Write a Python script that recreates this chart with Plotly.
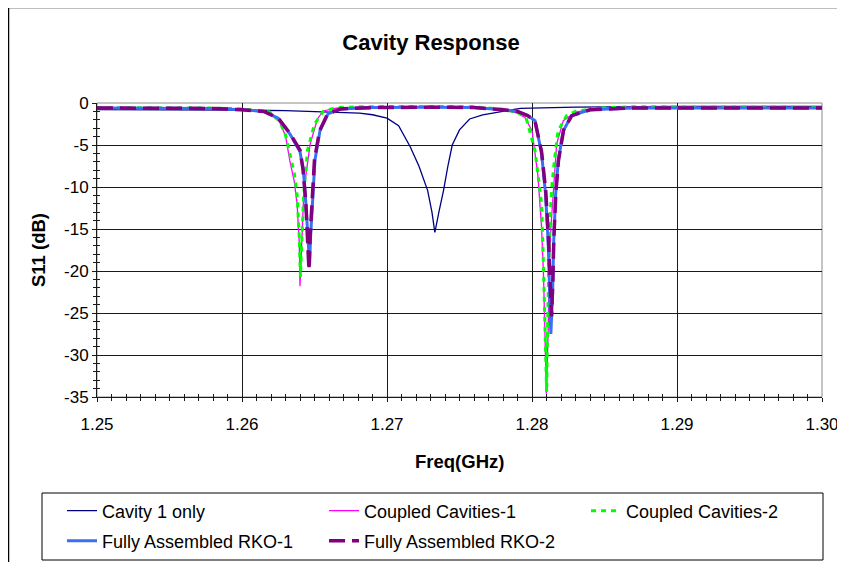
import plotly.graph_objects as go

# values
cavity_f = [1.2500, 1.2550, 1.2600, 1.2630, 1.2650, 1.2668, 1.2681, 1.2690, 1.2700, 1.2708,
            1.2716, 1.2722, 1.2728, 1.2731, 1.2733, 1.2736, 1.2739, 1.2742, 1.2745, 1.2750,
            1.2757, 1.2766, 1.2776, 1.2785, 1.2792, 1.2830, 1.2900, 1.3000]
cavity_db = [-0.8, -0.8, -0.85, -0.9, -1.0, -1.1, -1.2, -1.4, -1.8, -2.7,
             -5.2, -7.5, -10.4, -13.0, -15.4, -12.8, -10.4, -7.5, -5.0, -3.2,
             -1.9, -1.4, -1.1, -0.9, -0.65, -0.5, -0.4, -0.4]

cc1_f = [1.2500, 1.2550, 1.2580, 1.2600, 1.2610, 1.2619, 1.2626, 1.2630, 1.2633, 1.2636,
         1.2638, 1.26395, 1.2640, 1.26412, 1.26423, 1.26439, 1.2647, 1.2652, 1.2656, 1.2665,
         1.2680, 1.2720, 1.2760, 1.2780, 1.2790, 1.2795, 1.2800, 1.2804, 1.28066, 1.2808,
         1.28089, 1.28099, 1.28112, 1.28117, 1.2813, 1.28147, 1.2817, 1.28216, 1.2830, 1.2845,
         1.2870, 1.2950, 1.3000]
cc1_db = [-0.6, -0.6, -0.65, -0.75, -0.9, -1.1, -2.3, -3.9, -6.9, -9.3,
          -12.0, -16.7, -21.8, -16.7, -12.0, -8.8, -4.9, -1.9, -0.95, -0.6,
          -0.5, -0.45, -0.5, -0.8, -1.2, -1.7, -3.3, -8.5, -14.8, -20.8,
          -26.8, -34.6, -26.8, -20.8, -14.9, -10.1, -4.9, -2.1, -1.1, -0.65,
          -0.5, -0.5, -0.55]

cc2_f = [1.2500, 1.2550, 1.2580, 1.2600, 1.2610, 1.2619, 1.2626, 1.2630, 1.26336, 1.2636,
         1.2638, 1.26395, 1.26403, 1.26413, 1.26425, 1.26452, 1.2650, 1.2656, 1.2665, 1.2680,
         1.2720, 1.2760, 1.2780, 1.2790, 1.2796, 1.28021, 1.28066, 1.28078, 1.28085, 1.28094,
         1.28101, 1.28106, 1.28112, 1.28121, 1.28136, 1.28154, 1.2818, 1.28239, 1.2830, 1.2845,
         1.2870, 1.2950, 1.3000]
cc2_db = [-0.55, -0.55, -0.6, -0.7, -0.85, -1.05, -2.2, -3.8, -6.5, -8.3,
          -11.0, -16.0, -20.7, -16.0, -11.0, -5.6, -2.5, -1.0, -0.55, -0.45,
          -0.4, -0.45, -0.75, -1.1, -1.8, -5.7, -12.0, -18.8, -23.6, -30.0,
          -34.4, -28.0, -20.4, -14.8, -10.1, -6.9, -3.3, -1.5, -1.0, -0.6,
          -0.45, -0.45, -0.5]

rko1_f = [1.2500, 1.2550, 1.2580, 1.2600, 1.2615, 1.2625, 1.26331, 1.2640, 1.26423, 1.26441,
          1.26457, 1.26466, 1.26473, 1.26487, 1.26503, 1.26538, 1.26593, 1.2668, 1.2690, 1.2730,
          1.2760, 1.2780, 1.2790, 1.2797, 1.28021, 1.28066, 1.28094, 1.28112, 1.28124, 1.2813,
          1.28142, 1.28149, 1.28163, 1.28181, 1.28216, 1.28273, 1.2840, 1.2870, 1.2950, 1.3000]
rko1_db = [-0.6, -0.6, -0.65, -0.8, -1.0, -1.8, -3.7, -5.8, -8.0, -12.0,
           -16.7, -19.3, -15.9, -10.8, -6.8, -3.3, -1.3, -0.7, -0.55, -0.5,
           -0.55, -0.8, -1.0, -1.5, -2.1, -6.0, -10.9, -16.8, -22.8, -27.5,
           -22.8, -16.8, -10.9, -6.9, -3.3, -1.5, -0.8, -0.6, -0.6, -0.6]

rko2_f = [1.2500, 1.2550, 1.2580, 1.2600, 1.2615, 1.2625, 1.2633, 1.2640, 1.2642, 1.2644,
          1.26455, 1.26462, 1.2647, 1.26485, 1.2650, 1.26535, 1.2659, 1.2668, 1.2690, 1.2730,
          1.2760, 1.2780, 1.2790, 1.2797, 1.2802, 1.28066, 1.28095, 1.28113, 1.28126, 1.28135,
          1.28144, 1.28151, 1.28165, 1.28183, 1.28218, 1.28275, 1.2840, 1.2870, 1.2950, 1.3000]
rko2_db = [-0.6, -0.6, -0.65, -0.8, -1.0, -1.8, -3.6, -5.6, -7.8, -11.8,
           -16.5, -19.9, -15.8, -10.6, -6.7, -3.3, -1.3, -0.7, -0.55, -0.5,
           -0.55, -0.8, -1.0, -1.5, -2.1, -5.8, -10.5, -16.0, -21.0, -25.4,
           -21.0, -16.0, -10.6, -6.8, -3.2, -1.5, -0.8, -0.6, -0.6, -0.6]

y_tick_vals = [0, -5, -10, -15, -20, -25, -30, -35]
y_tick_text = ["0", "-5", "-10", "-15", "-20", "-25", "-30", "-35"]

FONT = "Arial, Liberation Sans, sans-serif"
GRID = "#1a1a1a"

fig = go.Figure()

# row 1 of the legend
fig.add_trace(go.Scatter(x=cavity_f, y=cavity_db, mode="lines", name="Cavity 1 only",
                         line=dict(color="#000080", width=1.3), legend="legend"))
fig.add_trace(go.Scatter(x=cc1_f, y=cc1_db, mode="lines", name="Coupled Cavities-1",
                         line=dict(color="#FF00FF", width=1.3), legend="legend"))
fig.add_trace(go.Scatter(x=cc2_f, y=cc2_db, mode="lines", name="Coupled Cavities-2",
                         line=dict(color="#00FF00", width=3, dash="5px,5px"), legend="legend"))
# row 2 of the legend
fig.add_trace(go.Scatter(x=rko1_f, y=rko1_db, mode="lines", name="Fully Assembled RKO-1",
                         line=dict(color="#3A6FF5", width=3), legend="legend2"))
fig.add_trace(go.Scatter(x=rko2_f, y=rko2_db, mode="lines", name="Fully Assembled RKO-2",
                         line=dict(color="#800080", width=3.5, dash="16px,7px"), legend="legend2"))

# empty trace so the overlay axes (inner half of the cross ticks) get drawn
fig.add_trace(go.Scatter(x=[], y=[], xaxis="x2", yaxis="y2", showlegend=False))


# pixel -> paper helpers for the plot box (page px 97..822, 103..397)
def px_x(p):
    return (p - 97) / 725.0


def px_y(p):
    return (397 - p) / 294.0


# the page body adds an 8px margin, so the figure is drawn 8px smaller
fig.update_layout(
    width=837,
    height=554,
    margin=dict(l=89, r=23, t=95, b=165, autoexpand=False),
    paper_bgcolor="white",
    plot_bgcolor="white",
    font=dict(family=FONT, size=17, color="black"),
    title=dict(text="<b>Cavity Response</b>", x=(431 - 8) / 837, y=1 - (42 - 8) / 554,
               xanchor="center", yanchor="middle", xref="container", yref="container",
               font=dict(size=22, family=FONT, color="black")),
    xaxis=dict(range=[1.25, 1.30], dtick=0.01, tick0=1.25, tickformat=".2f",
               showgrid=True, gridcolor=GRID, gridwidth=1,
               showline=True, linecolor=GRID, linewidth=1,
               ticks="outside", ticklen=4, tickcolor=GRID,
               minor=dict(dtick=0.001, tick0=1.25, ticks="outside", ticklen=3,
                          tickcolor=GRID, showgrid=False),
               ticklabelstandoff=8, zeroline=False),
    yaxis=dict(range=[-35, 0], tickmode="array", tickvals=y_tick_vals, ticktext=y_tick_text,
               showgrid=True, gridcolor=GRID, gridwidth=1,
               showline=True, linecolor=GRID, linewidth=1,
               ticks="outside", ticklen=4, tickcolor=GRID,
               minor=dict(tickmode="linear", dtick=1, tick0=0, ticks="outside", ticklen=3,
                          tickcolor=GRID, showgrid=False),
               zeroline=False),
    xaxis2=dict(range=[1.25, 1.30], overlaying="x", anchor="y2", side="bottom",
                showticklabels=False, showgrid=False, showline=False, zeroline=False,
                dtick=0.01, tick0=1.25, ticks="inside", ticklen=4, tickcolor=GRID,
                minor=dict(dtick=0.001, tick0=1.25, ticks="inside", ticklen=3,
                           tickcolor=GRID)),
    yaxis2=dict(range=[-35, 0], overlaying="y", anchor="x2", side="left",
                showticklabels=False, showgrid=False, showline=False, zeroline=False,
                tickmode="array", tickvals=y_tick_vals, ticks="inside", ticklen=4,
                tickcolor=GRID,
                minor=dict(tickmode="linear", dtick=1, tick0=0, ticks="inside", ticklen=3,
                           tickcolor=GRID)),
    legend=dict(orientation="h", x=px_x(62), y=px_y(511), xanchor="left", yanchor="middle",
                entrywidth=217, entrywidthmode="pixels", bgcolor="rgba(0,0,0,0)",
                borderwidth=0, font=dict(size=18, family=FONT), itemwidth=30),
    legend2=dict(orientation="h", x=px_x(62), y=px_y(541), xanchor="left", yanchor="middle",
                 entrywidth=217, entrywidthmode="pixels", bgcolor="rgba(0,0,0,0)",
                 borderwidth=0, font=dict(size=18, family=FONT), itemwidth=30),
    showlegend=True,
    annotations=[
        dict(text="<b>Freq(GHz)</b>", x=0.5, y=px_y(461), xref="paper", yref="paper",
             showarrow=False, xanchor="center", yanchor="middle",
             font=dict(size=18.5, family=FONT, color="black")),
        dict(text="<b>S11 (dB)</b>", x=px_x(38), y=0.5, xref="paper", yref="paper",
             showarrow=False, xanchor="center", yanchor="middle", textangle=-90,
             font=dict(size=18.5, family=FONT, color="black")),
    ],
    shapes=[
        # plot area frame
        dict(type="rect", xref="paper", yref="paper", x0=0, x1=1, y0=0, y1=1,
             line=dict(color="#8c8c8c", width=1), layer="below"),
        # legend box
        dict(type="rect", xref="paper", yref="paper", x0=px_x(42), x1=px_x(823),
             y0=px_y(560), y1=px_y(493), line=dict(color="black", width=1)),
        # outer chart border (only its left and top edges are inside the window)
        dict(type="line", xref="paper", yref="paper", x0=px_x(8.5), x1=px_x(8.5),
             y0=px_y(580), y1=px_y(7.5), line=dict(color="black", width=1.5)),
        dict(type="line", xref="paper", yref="paper", x0=px_x(8.5), x1=px_x(846),
             y0=px_y(7.5), y1=px_y(7.5), line=dict(color="black", width=1.5)),
    ],
)

fig.write_html("out.html")
